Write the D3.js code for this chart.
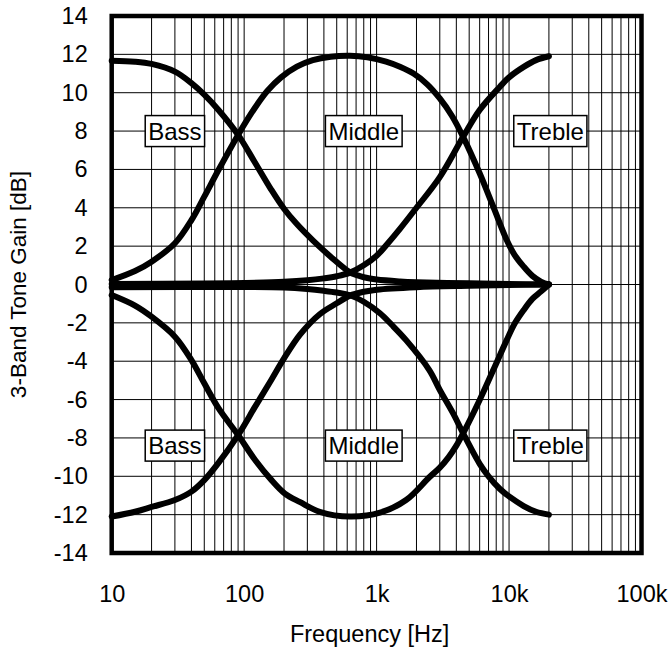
<!DOCTYPE html>
<html>
<head>
<meta charset="utf-8">
<script src="https://cdn.jsdelivr.net/npm/d3@7"></script>
<style>
  html, body { margin: 0; padding: 0; background: #fff; }
  svg { display: block; }
  text { font-family: "Liberation Sans", Arial, sans-serif; fill: #000; }
</style>
</head>
<body>
<svg id="chart" width="669" height="650"></svg>
<script>
// ---- data (frequency in Hz, gain in dB) ----
const bassBoost = [[10,11.67],[15,11.62],[20,11.5],[30,11.1],[40,10.5],[50,9.9],[64,9.1],[90,7.8],[120,6.39],[160,4.95],[200,3.95],[250,3.15],[330,2.3],[450,1.45],[630,0.63],[700,0.5],[800,0.38],[1000,0.26],[1500,0.16],[2000,0.12],[5000,0.06],[10000,0.03],[20000,0]];
const middleBoost = [[10,0.23],[15,0.7],[20,1.19],[30,2.15],[40,3.36],[50,4.58],[64,5.97],[90,7.8],[120,9.19],[150,10.1],[190,10.8],[250,11.36],[330,11.7],[450,11.88],[630,11.93],[850,11.85],[1180,11.62],[1500,11.35],[1900,11.0],[2400,10.45],[3000,9.7],[3700,8.8],[4500,7.7],[6000,5.8],[7600,4.06],[9600,2.32],[11000,1.55],[12900,0.93],[15000,0.45],[17400,0.15],[20000,0]];
const trebleBoost = [[10,0.03],[50,0.05],[100,0.08],[200,0.14],[300,0.22],[400,0.32],[500,0.43],[630,0.62],[800,1.0],[1000,1.5],[1200,2.1],[1500,2.9],[2000,4.0],[3000,5.6],[4500,7.7],[6000,9.1],[8500,10.3],[10000,10.8],[13000,11.36],[16000,11.7],[20000,11.9]];
const bassCut = [[10,-12.1],[15,-11.85],[20,-11.6],[30,-11.24],[40,-10.8],[50,-10.2],[64,-9.3],[90,-7.85],[121,-6.37],[161,-4.95],[200,-3.85],[265,-2.6],[372,-1.55],[500,-0.98],[630,-0.58],[800,-0.38],[1000,-0.27],[2000,-0.14],[5000,-0.07],[10000,-0.03],[20000,0]];
const middleCut = [[10,-0.55],[15,-1.1],[20,-1.68],[30,-2.72],[40,-3.94],[50,-5.15],[64,-6.45],[90,-7.85],[121,-9.15],[161,-10.2],[203,-10.9],[265,-11.35],[372,-11.85],[630,-12.1],[1060,-11.9],[1670,-11.24],[2500,-10.05],[3000,-9.55],[3500,-9.0],[4000,-8.4],[4500,-7.76],[6000,-6.02],[7600,-4.46],[9600,-2.9],[11000,-2.05],[12900,-1.33],[15000,-0.75],[17400,-0.37],[20000,0]];
const trebleCut = [[10,-0.14],[100,-0.13],[200,-0.16],[300,-0.24],[400,-0.33],[500,-0.42],[630,-0.56],[800,-0.9],[1060,-1.5],[1300,-2.1],[1670,-2.9],[2500,-4.46],[3000,-5.5],[3800,-6.75],[4500,-7.76],[6000,-9.35],[7000,-10.0],[8500,-10.65],[10000,-11.05],[12900,-11.55],[16000,-11.85],[20000,-12.0]];

const seriesList = [bassBoost, middleBoost, trebleBoost, bassCut, middleCut, trebleCut];

const xTickValues = [10, 100, 1000, 10000, 100000];
const xTickLabels = ["10", "100", "1k", "10k", "100k"];
const yTickValues = [-14,-12,-10,-8,-6,-4,-2,0,2,4,6,8,10,12,14];

const bandNames = ["Bass", "Middle", "Treble"];
const bandLabelFreqs = [30, 800, 20500];
const bandLabelLevels = [8, -8.4];

// ---- layout ----
const plot = { left: 111.7, right: 641.5, top: 16, bottom: 553 };
const svg = d3.select("#chart");
const x = d3.scaleLog().domain([10, 100000]).range([plot.left, plot.right]);
const y = d3.scaleLinear().domain([-14, 14]).range([plot.bottom, plot.top]);

// grid
const grid = svg.append("g");
grid.selectAll("line.v").data(x.ticks()).join("line")
  .attr("x1", d => x(d)).attr("x2", d => x(d))
  .attr("y1", plot.top).attr("y2", plot.bottom)
  .attr("stroke", "#000").attr("stroke-width", 1);
grid.selectAll("line.h").data(yTickValues).join("line")
  .attr("x1", plot.left).attr("x2", plot.right)
  .attr("y1", d => y(d)).attr("y2", d => y(d))
  .attr("stroke", "#000").attr("stroke-width", 1);

// curves
const line = d3.line()
  .x(d => x(d[0])).y(d => y(d[1]))
  .curve(d3.curveCatmullRom.alpha(0.5));
svg.append("g").selectAll("path").data(seriesList).join("path")
  .attr("d", line)
  .attr("fill", "none").attr("stroke", "#000")
  .attr("stroke-width", 6)
  .attr("stroke-linecap", "round").attr("stroke-linejoin", "round");

// frame
svg.append("rect")
  .attr("x", plot.left).attr("y", plot.top)
  .attr("width", plot.right - plot.left).attr("height", plot.bottom - plot.top)
  .attr("fill", "none").attr("stroke", "#000").attr("stroke-width", 4.5);

// axes
const yAxis = d3.axisLeft(y).tickValues(yTickValues).tickFormat(d => String(d))
  .tickSize(0).tickPadding(24);
const gy = svg.append("g").attr("transform", `translate(${plot.left},0)`).call(yAxis);
gy.select(".domain").remove();
gy.selectAll("text").attr("font-size", 23.5).attr("font-family", "Liberation Sans, Arial, sans-serif");

const xAxis = d3.axisBottom(x).tickValues(xTickValues)
  .tickFormat((d, i) => xTickLabels[i]).tickSize(0).tickPadding(32);
const gx = svg.append("g").attr("transform", `translate(0,${plot.bottom})`).call(xAxis);
gx.select(".domain").remove();
gx.selectAll("text").attr("font-size", 23.5).attr("font-family", "Liberation Sans, Arial, sans-serif");

// axis titles
svg.append("text")
  .attr("x", (plot.left + plot.right) / 2 - 7).attr("y", 642)
  .attr("text-anchor", "middle").attr("font-size", 23.5)
  .text("Frequency [Hz]");
svg.append("text")
  .attr("transform", `translate(26,${(plot.top + plot.bottom) / 2}) rotate(-90)`)
  .attr("text-anchor", "middle").attr("font-size", 22.5)
  .text("3-Band Tone Gain [dB]");

// band labels
const labels = svg.append("g");
bandLabelLevels.forEach(lv => {
  bandNames.forEach((name, i) => {
    const g = labels.append("g");
    const rect = g.append("rect");
    const t = g.append("text")
      .attr("x", x(bandLabelFreqs[i])).attr("y", y(lv))
      .attr("text-anchor", "middle").attr("dominant-baseline", "central")
      .attr("font-size", 24).text(name);
    const bb = t.node().getBBox();
    rect.attr("x", bb.x - 3).attr("y", y(lv) - 15.5)
      .attr("width", bb.width + 6).attr("height", 31)
      .attr("fill", "#fff").attr("stroke", "#000").attr("stroke-width", 1.5);
  });
});
</script>
</body>
</html>
